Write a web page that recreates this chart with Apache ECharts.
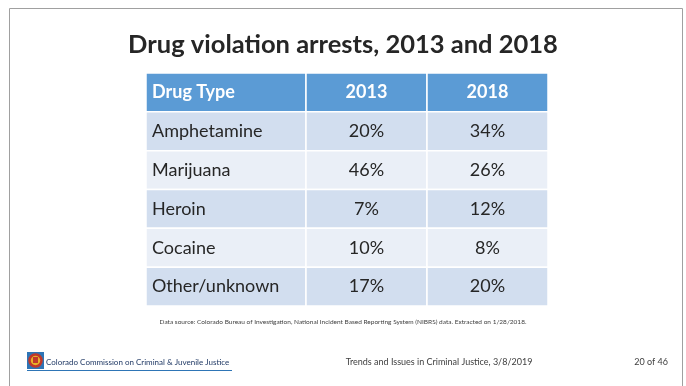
<!DOCTYPE html>
<html>
<head>
<meta charset="utf-8">
<script src="https://cdn.jsdelivr.net/npm/echarts@6/dist/echarts.min.js"></script>
<style>html,body{margin:0;padding:0;background:#fff}#c{width:686px;height:386px}</style>
</head>
<body>
<div id="c"></div>
<script>
const titleText = 'Drug violation arrests, 2013 and 2018';
const headerLabel = 'Drug Type';
const drugTypes = ['Amphetamine', 'Marijuana', 'Heroin', 'Cocaine', 'Other/unknown'];
const years = ['2013', '2018'];
const pct2013 = [20, 46, 7, 10, 17];
const pct2018 = [34, 26, 12, 8, 20];
const sourceText = 'Data source: Colorado Bureau of Investigation, National Incident Based Reporting System (NIBRS) data. Extracted on 1/28/2018.';
const footerOrg = 'Colorado Commission on Criminal & Juvenile Justice';
const footerMid = 'Trends and Issues in Criminal Justice, 3/8/2019';
const footerPage = '20 of 46';

const FONT = 'Lato, "Open Sans", sans-serif';
const rowsCat = ['header'].concat(drugTypes);

// cells: [col, row, text]
const leftCells = [[0, 0, headerLabel]].concat(drugTypes.map((d, i) => [0, i + 1, d]));
const rightCells = [];
years.forEach((y, j) => rightCells.push([j, 0, y]));
drugTypes.forEach((d, i) => {
  rightCells.push([0, i + 1, pct2013[i] + '%']);
  rightCells.push([1, i + 1, pct2018[i] + '%']);
});

function makeRender(align) {
  return function (params, api) {
    const col = api.value(0), row = api.value(1);
    const c = api.coord([col, row]);
    const s = api.size([1, 1]);
    const x0 = c[0] - s[0] / 2, y0 = c[1] - s[1] / 2;
    const isHeader = row === 0;
    const fill = isHeader ? '#5B9BD5' : (row % 2 === 1 ? '#D2DEEF' : '#EAEFF7');
    const txt = (align === 'left' ? leftCells : rightCells)[params.dataIndex][2];
    return {
      type: 'group',
      children: [
        {
          type: 'rect',
          shape: { x: x0, y: y0, width: s[0], height: s[1] },
          style: { fill: fill, stroke: '#FFFFFF', lineWidth: 1.5 }
        },
        {
          type: 'text',
          style: {
            x: align === 'left' ? x0 + 6 : c[0],
            y: c[1],
            text: txt,
            fill: isHeader ? '#FFFFFF' : '#262626',
            font: (isHeader ? 'bold ' : '') + '18px ' + FONT,
            align: align === 'left' ? 'left' : 'center',
            verticalAlign: 'middle'
          }
        }
      ]
    };
  };
}

const chart = echarts.init(document.getElementById('c'), null, { renderer: 'canvas' });
chart.setOption({
  backgroundColor: '#ffffff',
  animation: false,
  title: {
    text: titleText,
    left: 'center',
    top: 27,
    textStyle: { fontFamily: FONT, fontWeight: 'bold', fontSize: 25.5, color: '#262626' }
  },
  grid: [
    { left: 146, top: 73, width: 160, height: 233 },
    { left: 306, top: 73, width: 242, height: 233 }
  ],
  xAxis: [
    { type: 'category', gridIndex: 0, data: [headerLabel], show: false },
    { type: 'category', gridIndex: 1, data: years, show: false }
  ],
  yAxis: [
    { type: 'category', gridIndex: 0, data: rowsCat, inverse: true, show: false },
    { type: 'category', gridIndex: 1, data: rowsCat, inverse: true, show: false }
  ],
  series: [
    { type: 'custom', xAxisIndex: 0, yAxisIndex: 0, data: leftCells.map(d => [d[0], d[1]]), renderItem: makeRender('left'), silent: true },
    { type: 'custom', xAxisIndex: 1, yAxisIndex: 1, data: rightCells.map(d => [d[0], d[1]]), renderItem: makeRender('center'), silent: true }
  ],
  graphic: [
    { type: 'rect', shape: { x: 9.5, y: 8.5, width: 673, height: 400 }, style: { fill: 'none', stroke: '#A0A0A0', lineWidth: 1 }, z: -1 },
    { type: 'text', left: 'center', top: 318, style: { text: sourceText, font: '6.5px ' + FONT, fill: '#404040' } },
    // logo
    { type: 'rect', shape: { x: 27, y: 352, width: 17, height: 17 }, style: { fill: '#2E75B6' } },
    { type: 'circle', shape: { cx: 35.5, cy: 360.5, r: 6 }, style: { fill: '#E8B22A', stroke: '#C0392B', lineWidth: 2.5 } },
    { type: 'rect', shape: { x: 33, y: 357, width: 5, height: 6 }, style: { fill: '#C0392B' } },
    { type: 'text', x: 46, y: 362, style: { text: footerOrg, font: '8px ' + FONT, fill: '#1F3864', verticalAlign: 'middle' } },
    { type: 'line', shape: { x1: 27, y1: 370.5, x2: 232, y2: 370.5 }, style: { stroke: '#2E75B6', lineWidth: 1 } },
    { type: 'text', x: 439, y: 362, style: { text: footerMid, font: '9px ' + FONT, fill: '#404040', align: 'center', verticalAlign: 'middle' } },
    { type: 'text', x: 668, y: 362, style: { text: footerPage, font: '9px ' + FONT, fill: '#404040', align: 'right', verticalAlign: 'middle' } }
  ]
});
</script>
</body>
</html>
